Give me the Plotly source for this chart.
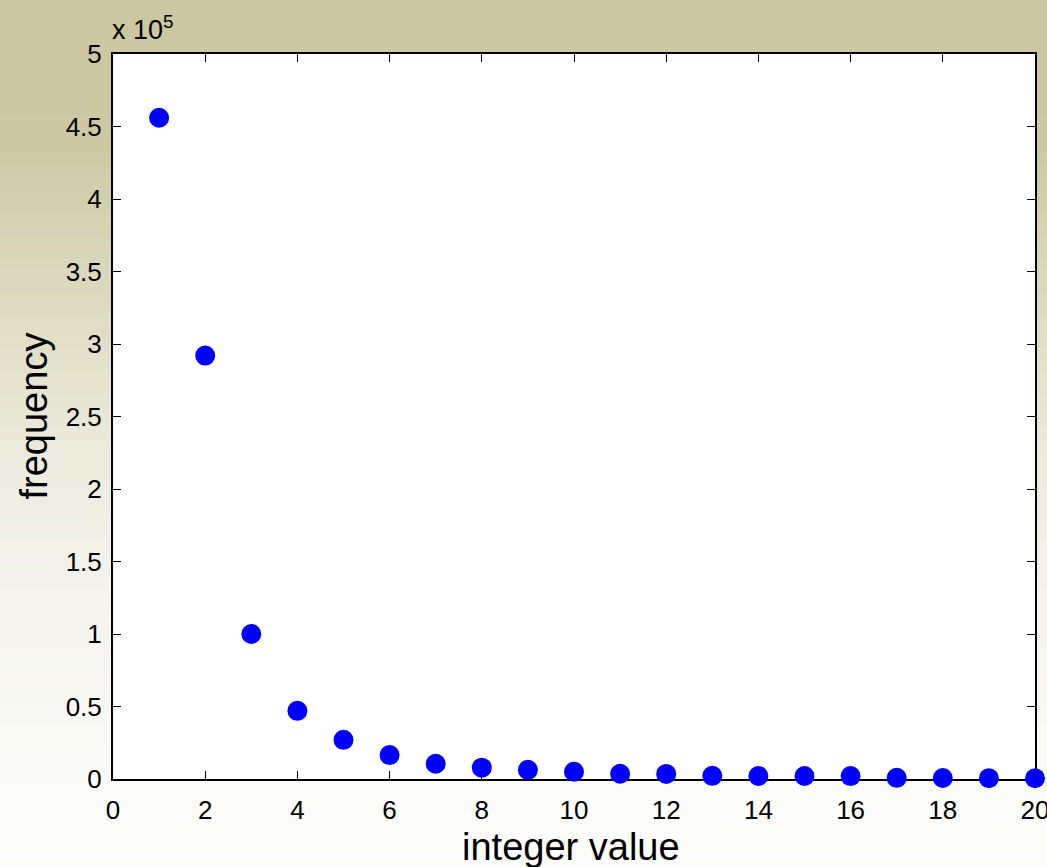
import plotly.graph_objects as go

# ---- data ----
integer_values = list(range(1, 21))
frequencies = [456000, 292000, 100000, 47000, 27000, 16500, 10500, 7800, 6300, 5000,
               3600, 3500, 2200, 2100, 2100, 2000, 800, 700, 600, 500]
x_ticks = list(range(0, 21, 2))
y_tick_vals = [0, 50000, 100000, 150000, 200000, 250000, 300000, 350000, 400000, 450000, 500000]
y_tick_text = ["0", "0.5", "1", "1.5", "2", "2.5", "3", "3.5", "4", "4.5", "5"]

W, H = 1047, 867
L, R, T, B = 113, 12, 54, 88
pw, ph = W - L - R, H - T - B

FONT = "Liberation Sans, Arial, sans-serif"

# background gradient stops (page pixel y, rgb)
stops = [(0, (204, 199, 160)), (150, (206, 201, 164)), (300, (222, 218, 193)),
         (450, (236, 234, 220)), (600, (245, 244, 237)), (750, (250, 250, 246)),
         (867, (252, 252, 250))]


def col_at(y):
    for (y0, c0), (y1, c1) in zip(stops[:-1], stops[1:]):
        if y0 <= y <= y1:
            t = (y - y0) / (y1 - y0)
            return tuple(round(a + (b - a) * t) for a, b in zip(c0, c1))
    return stops[-1][1]


def px_to_paper_x(px):
    return (px - L) / pw


def px_to_paper_y(py):
    return (H - B - py) / ph


shapes = []
step = 6
for y in range(0, H, step):
    c = col_at(y + step / 2)
    shapes.append(dict(type="rect", xref="paper", yref="paper", layer="below",
                       x0=px_to_paper_x(0), x1=px_to_paper_x(W),
                       y0=px_to_paper_y(y + step + 1), y1=px_to_paper_y(y),
                       fillcolor="rgb(%d,%d,%d)" % c, line=dict(width=0)))
shapes.append(dict(type="rect", xref="paper", yref="paper", layer="below",
                   x0=0, x1=1, y0=0, y1=1, fillcolor="white", line=dict(width=0)))

fig = go.Figure()
fig.add_trace(go.Scatter(x=integer_values, y=frequencies, mode="markers",
                         marker=dict(size=20, color="#0000FF", line=dict(width=0)),
                         cliponaxis=False, showlegend=False))

axis_common = dict(showline=True, linecolor="black", linewidth=2, mirror="ticks",
                   ticks="inside", ticklen=8, tickwidth=1, tickcolor="black",
                   showgrid=False, zeroline=False, layer="below traces",
                   ticklabeloverflow="allow",
                   tickfont=dict(family=FONT, size=26, color="black"))

fig.update_xaxes(range=[0, 20], tickvals=x_ticks, ticklabelstandoff=7, **axis_common)
fig.update_yaxes(range=[0, 500000], tickvals=y_tick_vals, ticktext=y_tick_text,
                 ticklabelstandoff=4, **axis_common)

annotations = [
    dict(text="integer value", xref="paper", yref="paper", x=0.497, y=px_to_paper_y(847),
         xanchor="center", yanchor="middle", showarrow=False,
         font=dict(family=FONT, size=38, color="black")),
    dict(text="frequency", xref="paper", yref="paper", x=px_to_paper_x(33), y=0.5,
         xanchor="center", yanchor="middle", textangle=-90, showarrow=False,
         font=dict(family=FONT, size=38, color="black")),
    dict(text="x 10<sup>5</sup>", xref="paper", yref="paper", x=px_to_paper_x(110),
         y=px_to_paper_y(28), xanchor="left", yanchor="middle", showarrow=False,
         font=dict(family=FONT, size=27, color="black")),
]

fig.update_layout(width=W, height=H, margin=dict(l=L, r=R, t=T, b=B, autoexpand=False),
                  paper_bgcolor="rgb(204,199,160)", plot_bgcolor="white",
                  shapes=shapes, annotations=annotations,
                  font=dict(family=FONT, color="black"))

fig.write_html("out.html")
